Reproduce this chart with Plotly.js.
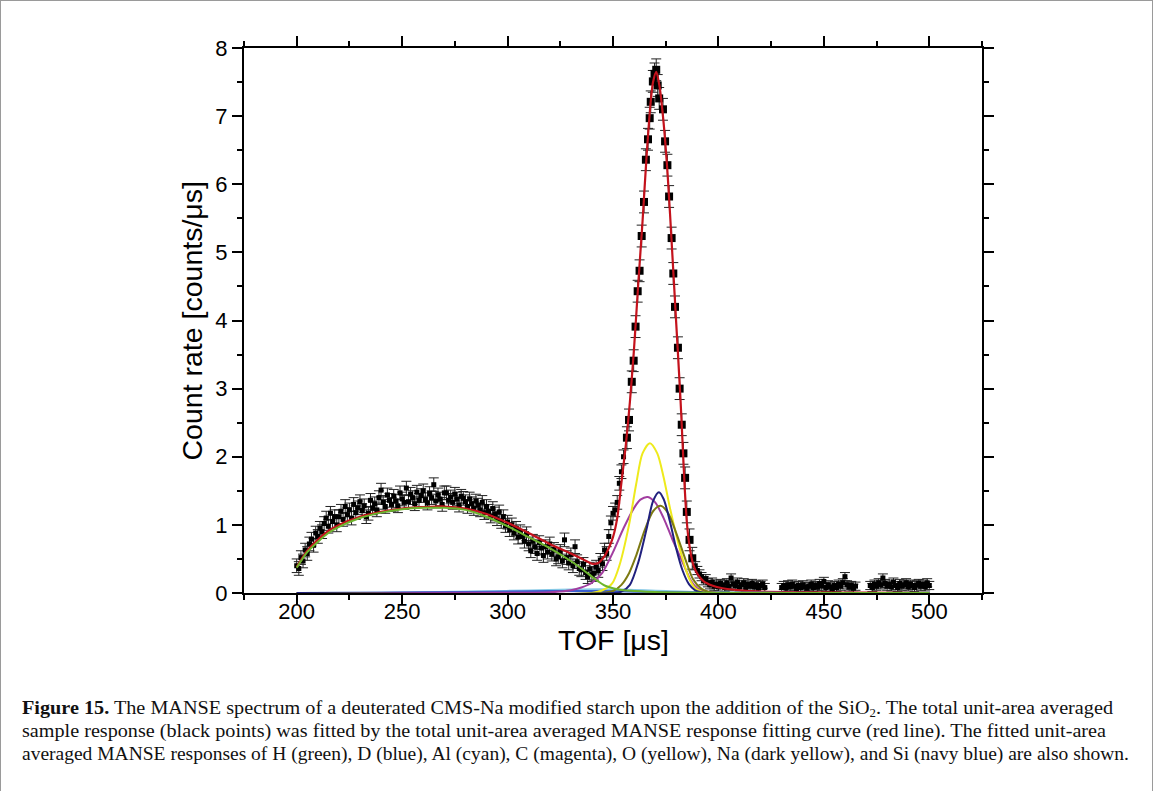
<!DOCTYPE html>
<html>
<head>
<meta charset="utf-8">
<script src="https://cdn.plot.ly/plotly-3.0.1.min.js"></script>
<style>
  html, body { margin:0; padding:0; background:#fff; }
  #frame { position:absolute; left:0; top:0; width:1151px; height:790px; border-top:1px solid #9a9a9a; border-left:1px solid #9a9a9a; border-right:1px solid #9a9a9a; }
  #plot { position:absolute; left:0; top:0; width:1153px; height:801px; }
  #cap { position:absolute; left:22px; top:696px; font-family:"Liberation Serif","DejaVu Serif",serif; font-size:19px; color:#111; }
  .ln { display:block; height:23px; line-height:23px; white-space:nowrap; }
  .ln span.t { display:inline-block; transform-origin:0 50%; }
  sub { font-size:12px; line-height:0; vertical-align:-3px; }
</style>
</head>
<body>
<div id="frame"></div>
<div id="plot"></div>
<div id="cap">
  <div class="ln"><span class="t" data-w="1091"><b>Figure 15.</b> The MANSE spectrum of a deuterated CMS-Na modified starch upon the addition of the SiO<sub>2</sub>. The total unit-area averaged</span></div>
  <div class="ln"><span class="t" data-w="1084">sample response (black points) was fitted by the total unit-area averaged MANSE response fitting curve (red line). The fitted unit-area</span></div>
  <div class="ln"><span class="t" data-w="1107">averaged MANSE responses of H (green), D (blue), Al (cyan), C (magenta), O (yellow), Na (dark yellow), and Si (navy blue) are also shown.</span></div>
</div>
<script>
// ---- measured sample (black points) ----
const humpX = [200,201,202,203,204,205,206,207,208,209,210,211,212,213,214,215,216,217,218,219,220,221,222,223,224,225,226,227,228,229,230,231,232,233,234,235,236,237,238,239,240,241,242,243,244,245,246,247,248,249,250,251,252,253,254,255,256,257,258,259,260,261,262,263,264,265,266,267,268,269,270,271,272,273,274,275,276,277,278,279,280,281,282,283,284,285,286,287,288,289,290,291,292,293,294,295,296,297,298,299,300,301,302,303,304,305,306,307,308,309,310,311,312,313,314,315,316,317,318,319,320,321,322,323,324,325,326,327,328,329,330,331,332,333,334,335,336,337,338,339,340,341,342,343,344,345,346,347,348,349,350,351,352,353,354,355];
const humpY = [0.40,0.36,0.52,0.47,0.63,0.58,0.72,0.79,0.70,0.88,
  0.83,0.95,0.90,1.02,1.10,0.98,1.17,1.05,1.12,1.00,
  1.12,1.20,1.08,1.27,1.15,1.22,1.10,1.30,1.18,1.25,
  1.34,1.21,1.28,1.12,1.17,1.36,1.25,1.31,1.22,1.40,
  1.51,1.33,1.27,1.44,1.36,1.30,1.42,1.35,1.28,1.47,
  1.38,1.33,1.54,1.34,1.45,1.40,1.31,1.48,1.36,1.43,
  1.50,1.37,1.32,1.46,1.40,1.59,1.35,1.44,1.38,1.30,
  1.47,1.47,1.36,1.41,1.33,1.45,1.38,1.29,1.42,1.39,
  1.34,1.27,1.38,1.31,1.24,1.35,1.29,1.22,1.33,1.18,
  1.27,1.20,1.13,1.24,1.16,1.09,1.19,1.05,1.12,0.99,
  1.04,0.93,1.00,0.88,0.95,0.82,0.90,0.83,0.76,0.87,
  0.72,0.62,0.76,0.68,0.58,0.74,0.66,0.55,0.68,0.60,
  0.72,0.57,0.64,0.50,0.53,0.61,0.47,0.78,0.52,0.44,
  0.56,0.40,0.68,0.46,0.36,0.34,0.42,0.30,0.24,0.35,
  0.27,0.29,0.38,0.33,0.48,0.43,0.63,0.58,0.83,1.03,
  1.17,1.22,1.33,1.61,1.78,2.00];
const peakX = [356.6,357.6,358.9,359.8,360.7,361.7,362.6,363.6,364.7,365.6,366.6,367.4,367.9,368.9,369.7,370.5,371.2,371.9,373.7,374.7,375.8,376.6,377.8,378.6,379.4,380.8,381.6,382.6,383.4,384.2,385.0,386.3,387.6];
const peakY = [2.28,2.54,3.10,3.41,3.91,4.43,4.73,5.24,5.74,6.36,6.66,6.97,7.21,7.51,7.62,7.68,7.45,7.26,7.10,6.63,6.28,5.82,5.21,4.69,4.20,3.60,3.00,2.47,2.05,1.69,1.19,0.78,0.51];
const tailX = [389,390,391,392,393,394,395,396,397,398,399,400,401,402,403,404,405,406,407,408,409,410,411,412,413,414,415,416,417,418,419,420,421,422,
  430,431,432,433,434,435,436,437,438,439,440,441,442,443,444,445,446,447,448,449,450,451,452,453,454,455,456,457,458,459,460,461,462,463,464,465,
  472,473,474,475,476,477,478,479,480,481,482,483,484,485,486,487,488,489,490,491,492,493,494,495,496,497,498,499,500];
const tailY = [0.40,0.33,0.28,0.24,0.18,0.21,0.15,0.12,0.16,0.10,0.13,0.09,0.14,0.12,0.08,0.15,0.10,0.22,0.13,0.11,0.16,0.09,0.12,0.15,0.08,0.13,0.10,0.14,0.09,0.12,0.07,0.11,0.13,0.08,
  0.08,0.11,0.07,0.12,0.09,0.13,0.10,0.06,0.11,0.08,0.12,0.09,0.07,0.10,0.13,0.08,0.11,0.09,0.14,0.10,0.17,0.08,0.12,0.09,0.06,0.11,0.08,0.13,0.10,0.15,0.24,0.12,0.09,0.11,0.07,0.10,
  0.11,0.08,0.13,0.10,0.15,0.12,0.22,0.14,0.10,0.13,0.09,0.16,0.11,0.08,0.14,0.10,0.12,0.15,0.09,0.13,0.11,0.08,0.12,0.14,0.10,0.13,0.09,0.15,0.11];

// ---- fitted curves ----
const redX = [200,205,210,215,220,230,240,250,260,270,280,290,300,310,320,330,336,340,343,346,348,350,352,354,356,358,360,362,364,366,368,369,370.5,372,374,376,378,380,382,383,384,385,386,388,390,393,397,402,410,420,440,470,500];
const redY = [0.38,0.62,0.78,0.91,1.00,1.12,1.19,1.24,1.26,1.27,1.24,1.16,1.03,0.88,0.72,0.58,0.49,0.43,0.44,0.54,0.66,0.82,1.10,1.62,2.15,2.80,3.60,4.55,5.45,6.45,7.25,7.50,7.65,7.45,6.90,6.10,5.05,3.95,2.85,2.20,1.55,1.05,0.75,0.42,0.28,0.17,0.11,0.07,0.04,0.02,0.01,0.005,0.0];
const hX = [200,205,210,215,220,230,240,250,260,270,280,290,300,310,320,330,335,340,343,346,350,355,360,370,380,400,450,500];
const hY = [0.37,0.60,0.75,0.88,0.97,1.10,1.18,1.23,1.25,1.25,1.22,1.12,0.98,0.82,0.66,0.47,0.36,0.24,0.17,0.11,0.07,0.04,0.03,0.015,0.008,0.003,0.001,0.0];
const dX = [200,240,280,310,330,345,360,380,400,450,500];
const dY = [0.0,0.005,0.015,0.025,0.03,0.028,0.02,0.01,0.004,0.001,0.0];
const alX = [200,230,260,290,310,330,345,355,365,375,390,410,450,500];
const alY = [0.0,0.005,0.012,0.025,0.038,0.05,0.055,0.05,0.04,0.028,0.012,0.004,0.001,0.0];
const cX = [200,300,320,330,335,340,345,350,355,360,363,366.5,370,374,378,381,384,387,390,395,400,410,500];
const cY = [0.0,0.002,0.01,0.04,0.08,0.15,0.30,0.60,0.95,1.25,1.37,1.41,1.33,1.10,0.80,0.59,0.38,0.18,0.07,0.02,0.005,0.0,0.0];
const oX = [200,340,345,349.6,353,357.6,361,364,367.5,371,374,377,380,383,386,389,392,395,500];
const oY = [0.0,0.0,0.04,0.14,0.40,1.00,1.60,2.05,2.20,2.05,1.70,1.25,0.85,0.50,0.22,0.07,0.02,0.0,0.0];
const naX = [200,345,350,354,357.6,361,365,369,372.6,376,380,384.5,388,392,396,400,500];
const naY = [0.0,0.0,0.03,0.12,0.29,0.55,0.92,1.20,1.28,1.18,0.88,0.48,0.20,0.06,0.01,0.0,0.0];
const siX = [200,350,354,358,362,366,369,371.8,374,377,380,383,386,389,392,395,500];
const siY = [0.0,0.0,0.02,0.12,0.45,0.95,1.35,1.48,1.38,1.05,0.65,0.33,0.13,0.04,0.01,0.0,0.0];

// ---- tick labels ----
const xTicks = [200,250,300,350,400,450,500];
const yTicks = [0,1,2,3,4,5,6,7,8];

function pts(x, y, err, size) {
  return {x:x, y:y, type:'scatter', mode:'markers', showlegend:false, cliponaxis:false,
    marker:{symbol:'square', size:size, color:'#000'},
    error_y:{type:'constant', value:err, color:'#222', thickness:1, width:5}};
}
function curve(x, y, color, w) {
  return {x:x, y:y, type:'scatter', mode:'lines', showlegend:false,
    line:{color:color, width:w||2, shape:'spline', smoothing:0.8}};
}

const traces = [
  pts(humpX, humpY, 0.10, 5),
  pts(peakX, peakY, 0.16, 8),
  pts(tailX, tailY, 0.06, 5),
  curve(redX, redY, '#c4121c', 2.2),
  curve(alX, alY, '#86c9e6'),
  curve(dX, dY, '#3a5fd0'),
  curve(cX, cY, '#a23ea0'),
  curve(oX, oY, '#eeea1c'),
  curve(naX, naY, '#7d7a12'),
  curve(siX, siY, '#20207e'),
  curve(hX, hY, '#6cb52c')
];

const fontAx = {family:'"Liberation Sans", Arial, sans-serif', color:'#000'};
const layout = {
  width:1153, height:801,
  margin:{l:244, r:171, t:48, b:208},
  paper_bgcolor:'rgba(0,0,0,0)', plot_bgcolor:'#fff',
  showlegend:false,
  xaxis:{range:[175,525], tickvals:xTicks, ticktext:xTicks.map(String),
    ticks:'outside', ticklen:10, tickwidth:2, tickcolor:'#000',
    showline:true, linewidth:2, linecolor:'#000', mirror:'allticks',
    showgrid:false, zeroline:false, ticklabelstandoff:-12,
    minor:{ticks:'outside', ticklen:5, tickwidth:2, tickcolor:'#000', dtick:25, tick0:0, showgrid:false},
    tickfont:Object.assign({size:22}, fontAx)},
  yaxis:{range:[0,8], tickvals:yTicks, ticktext:yTicks.map(String),
    ticks:'outside', ticklen:10, tickwidth:2, tickcolor:'#000',
    showline:true, linewidth:2, linecolor:'#000', mirror:'allticks',
    showgrid:false, zeroline:false,
    minor:{ticks:'outside', ticklen:5, tickwidth:2, tickcolor:'#000', dtick:0.5, tick0:0, showgrid:false},
    tickfont:Object.assign({size:22}, fontAx)},
  annotations:[
    {text:'TOF [\u03bcs]', xref:'paper', yref:'paper', x:0.5, y:-0.0862, xanchor:'center', yanchor:'middle',
     showarrow:false, font:Object.assign({size:28.5}, fontAx)},
    {text:'Count rate [counts/\u03bcs]', xref:'paper', yref:'paper', x:-0.0705, y:0.5, xanchor:'center', yanchor:'middle',
     textangle:-90, showarrow:false, font:Object.assign({size:28.5}, fontAx)}
  ]
};

Plotly.newPlot('plot', traces, layout, {displayModeBar:false, staticPlot:true}).then(function(){
  document.querySelectorAll('#cap .t').forEach(function(el){
    const w = el.getBoundingClientRect().width;
    const target = parseFloat(el.getAttribute('data-w'));
    el.style.transform = 'scaleX(' + (target / w) + ')';
  });
});
</script>
</body>
</html>
